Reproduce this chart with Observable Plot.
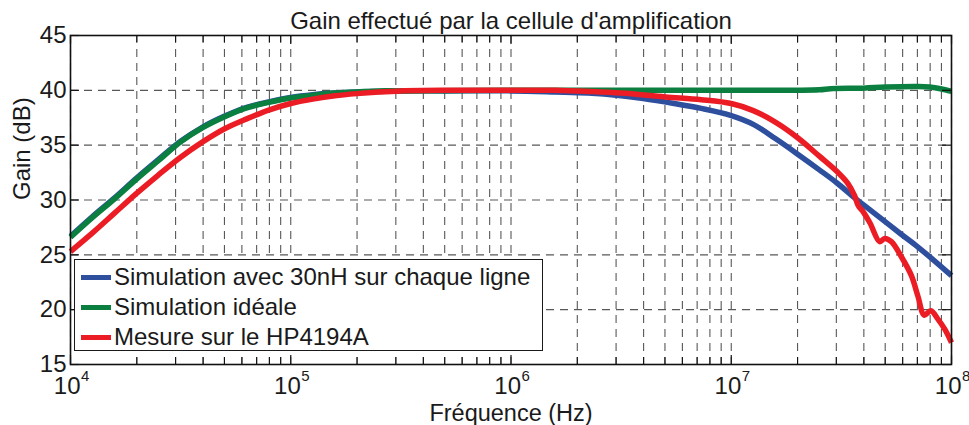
<!DOCTYPE html>
<html>
<head>
<meta charset="utf-8">
<script src="https://cdn.jsdelivr.net/npm/d3@7"></script>
<script src="https://cdn.jsdelivr.net/npm/@observablehq/plot@0.6"></script>
<style>
  body { margin: 0; background: #fff; }
  #wrap { position: relative; width: 969px; height: 425px; font-family: "Liberation Sans", Arial, sans-serif; color: #1a1a1a; }
  #legend { position: absolute; left: 74px; top: 259px; width: 469px; height: 92px; border: 1.3px solid #1a1a1a; background: #fff; box-sizing: border-box; }
  .row { position: absolute; left: 6px; height: 30px; display: flex; align-items: center; font-size: 24px; white-space: nowrap; }
  .sw { width: 30px; height: 5px; margin-right: 3px; }
</style>
</head>
<body>
<div id="wrap"></div>
<script>
// ---- data (frequencies stored as log10(Hz), gains in dB) ----
const seriesNames = ["Simulation avec 30nH sur chaque ligne", "Simulation idéale", "Mesure sur le HP4194A"];
const seriesColors = ["#2e4f9e", "#0b7f40", "#ec1c24"];

const blueLogF = [4.0,4.1,4.2,4.3,4.4,4.5,4.6,4.7,4.8,4.9,5.0,5.1,5.2,5.3,5.4,5.5,5.7,6.0,6.2,6.35,6.5,6.6,6.74,6.864,7.0,7.1,7.2,7.3,7.4,7.48,7.56,7.63,7.70,7.77,7.845,7.92,8.0];
const blueGain = [26.7,28.5,30.2,32.0,33.7,35.35,36.65,37.65,38.45,38.95,39.35,39.6,39.75,39.85,39.9,39.95,39.95,39.95,39.85,39.75,39.5,39.25,38.8,38.35,37.7,36.9,35.6,34.2,32.75,31.55,30.2,29.1,28.0,26.9,25.75,24.5,23.1];

const greenLogF = [4.0,4.1,4.2,4.3,4.4,4.5,4.6,4.7,4.8,4.9,5.0,5.1,5.2,5.3,5.4,5.5,6.0,7.0,7.4,7.45,7.6,7.7,7.85,7.9,7.95,8.0];
const greenGain = [26.6,28.4,30.1,31.9,33.6,35.3,36.6,37.6,38.4,38.9,39.3,39.55,39.75,39.85,39.95,39.95,40.0,40.0,40.05,40.15,40.2,40.3,40.35,40.3,40.15,39.9];

const redLogF = [4.0,4.1,4.2,4.3,4.4,4.5,4.6,4.7,4.8,4.9,5.0,5.1,5.2,5.3,5.4,5.5,5.7,6.0,6.2,6.35,6.5,6.7,6.864,7.0,7.1,7.2,7.3,7.4,7.48,7.53,7.56,7.576,7.60,7.63,7.674,7.697,7.727,7.773,7.818,7.848,7.876,7.906,7.94,7.97,8.0];
const redGain = [25.3,27.0,28.8,30.6,32.3,33.9,35.3,36.5,37.4,38.2,38.8,39.2,39.5,39.7,39.85,39.95,40.0,40.0,40.0,39.9,39.75,39.4,39.15,38.8,38.15,37.1,35.7,34.0,32.6,31.5,30.4,29.5,28.9,27.9,26.2,26.5,26.2,24.8,23.1,21.2,19.5,19.9,19.1,18.2,17.0];

const xMajor = [1e4, 1e5, 1e6, 1e7, 1e8];
const xMajorExp = ["4", "5", "6", "7", "8"];
const xMinorMult = [2,3,4,5,6,7,8,9];
const yTicks = [15, 20, 25, 30, 35, 40, 45];

const titleText = "Gain effectué par la cellule d'amplification";
const xLabel = "Fréquence (Hz)";
const yLabel = "Gain (dB)";

// ---- build tables ----
const toRows = (lf, g, s) => lf.map((v, i) => ({f: 10 ** v, gain: g[i], s}));
const series = [
  toRows(blueLogF, blueGain, seriesNames[0]),
  toRows(greenLogF, greenGain, seriesNames[1]),
  toRows(redLogF, redGain, seriesNames[2])
];
const xMinor = xMajor.slice(0, -1).flatMap(d => xMinorMult.map(m => d * m));
const xAll = [...xMajor, ...xMinor];
const majorRows = xMajor.map((d, i) => ({x: d, e: xMajorExp[i]}));

const W = 969, H = 425, mL = 70, mR = 18, mT = 35, mB = 61;
const pw = W - mL - mR, ph = H - mT - mB;
const gridStyle = {stroke: "#585858", strokeWidth: 1.1, strokeDasharray: "8,6"};
const lineStyle = {x: "f", y: "gain", strokeWidth: 5.5, strokeLinejoin: "round", strokeLinecap: "butt", curve: "catmull-rom"};

const chart = Plot.plot({
  width: W, height: H,
  marginLeft: mL, marginRight: mR, marginTop: mT, marginBottom: mB,
  style: {fontFamily: "Liberation Sans, Arial, sans-serif", color: "#1a1a1a", background: "#fff"},
  x: {type: "log", domain: [1e4, 1e8], axis: null},
  y: {domain: [15, 45], axis: null},
  marks: [
    Plot.ruleX(xAll, {x: d => d, ...gridStyle}),
    Plot.ruleY(yTicks, {y: d => d, ...gridStyle}),
    Plot.line(series[0], {...lineStyle, stroke: seriesColors[0]}),
    Plot.line(series[1], {...lineStyle, stroke: seriesColors[1]}),
    Plot.line(series[2], {...lineStyle, stroke: seriesColors[2]}),
    // inward ticks
    Plot.tickX(xMajor, {x: d => d, insetTop: ph - 9, stroke: "#111", strokeWidth: 1.2}),
    Plot.tickX(xMajor, {x: d => d, insetBottom: ph - 9, stroke: "#111", strokeWidth: 1.2}),
    Plot.tickX(xMinor, {x: d => d, insetTop: ph - 7, stroke: "#111", strokeWidth: 1.1}),
    Plot.tickX(xMinor, {x: d => d, insetBottom: ph - 7, stroke: "#111", strokeWidth: 1.1}),
    Plot.tickY(yTicks, {y: d => d, insetRight: pw - 9, stroke: "#111", strokeWidth: 1.2}),
    Plot.tickY(yTicks, {y: d => d, insetLeft: pw - 9, stroke: "#111", strokeWidth: 1.2}),
    Plot.frame({stroke: "#111", strokeWidth: 1.6}),
    // y tick labels
    Plot.axisY(yTicks, {tickSize: 0, tickPadding: 4, fontSize: 24, label: null, fill: "#1a1a1a"}),
    // x tick labels: "10" with superscript exponent
    Plot.text(majorRows, {x: "x", text: () => "10", frameAnchor: "bottom", textAnchor: "end", lineAnchor: "bottom", dx: 10, dy: 29.5, fontSize: 24, fill: "#1a1a1a"}),
    Plot.text(majorRows, {x: "x", text: "e", frameAnchor: "bottom", textAnchor: "start", lineAnchor: "bottom", dx: 10.5, dy: 16, fontSize: 15, fill: "#1a1a1a"}),
    // labels and title
    Plot.text([xLabel], {text: d => d, frameAnchor: "bottom", lineAnchor: "bottom", dy: 56, fontSize: 23.5, fill: "#1a1a1a"}),
    Plot.text([yLabel], {text: d => d, frameAnchor: "left", lineAnchor: "bottom", rotate: -90, dx: -41, fontSize: 24, fill: "#1a1a1a"}),
    Plot.text([titleText], {text: d => d, frameAnchor: "top", lineAnchor: "bottom", dy: -7, fontSize: 24, fill: "#1a1a1a"})
  ]
});

const wrap = document.getElementById("wrap");
wrap.appendChild(chart);

// legend (built from the series arrays)
const legend = document.createElement("div");
legend.id = "legend";
seriesNames.forEach((name, i) => {
  const row = document.createElement("div");
  row.className = "row";
  row.style.top = (2 + i * 30) + "px";
  const sw = document.createElement("span");
  sw.className = "sw";
  sw.style.background = seriesColors[i];
  const t = document.createElement("span");
  t.textContent = name;
  row.appendChild(sw);
  row.appendChild(t);
  legend.appendChild(row);
});
wrap.appendChild(legend);
</script>
</body>
</html>
